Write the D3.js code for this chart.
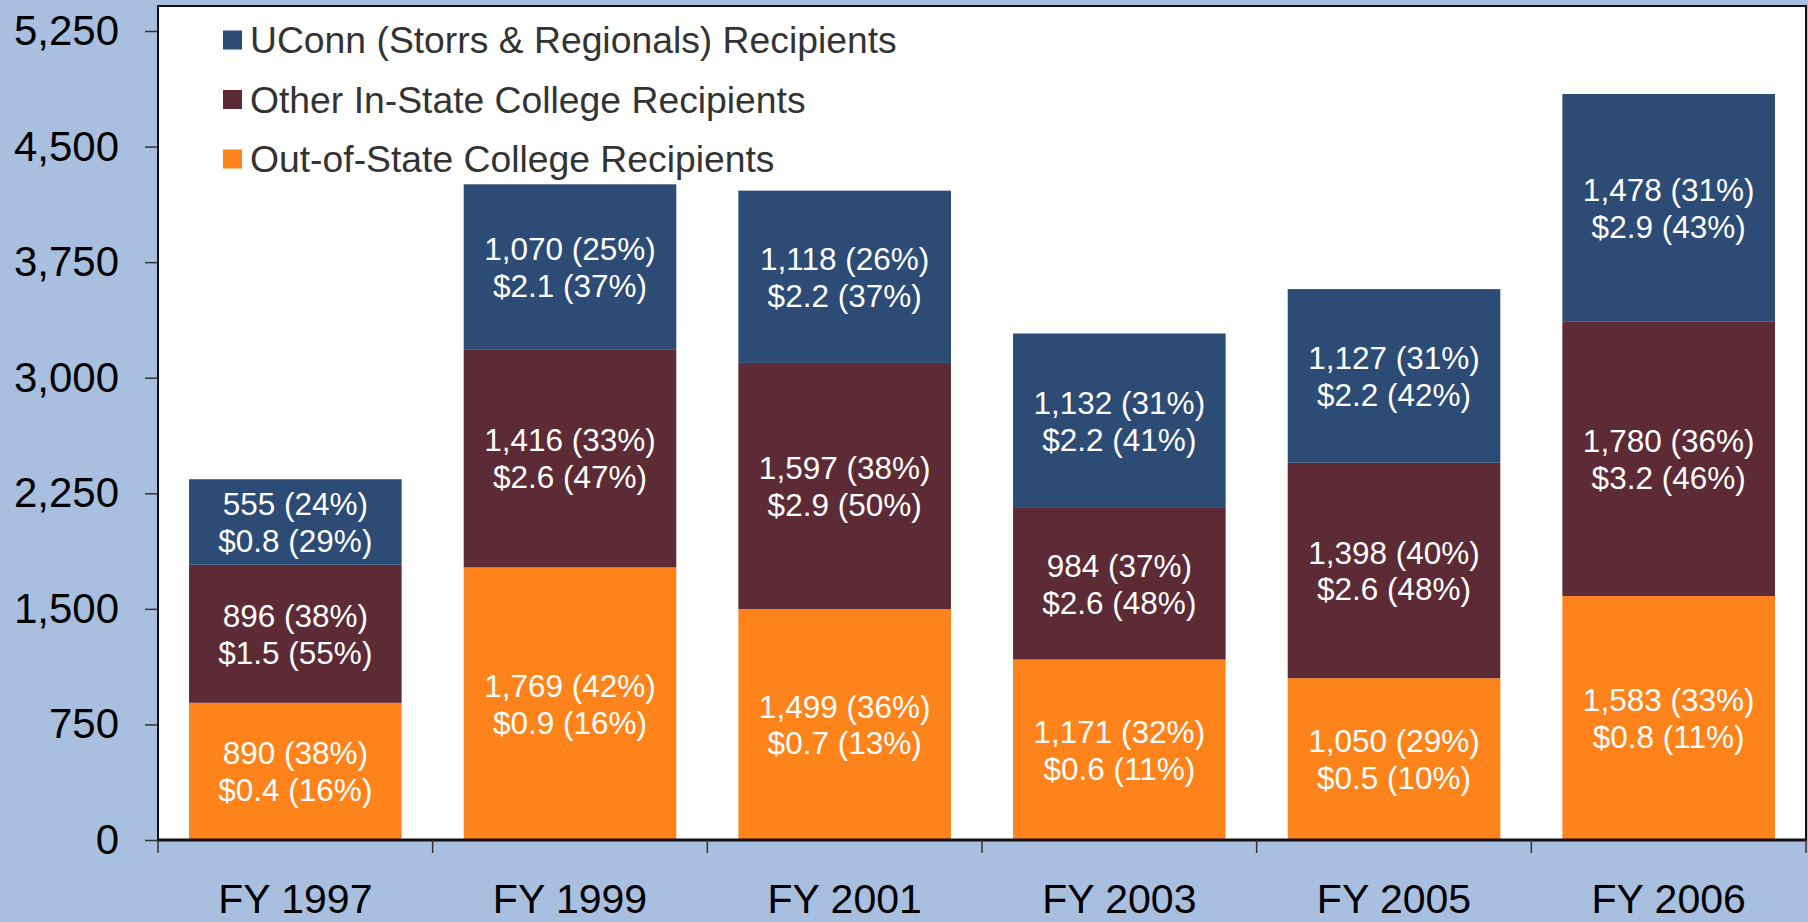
<!DOCTYPE html>
<html>
<head>
<meta charset="utf-8">
<script src="https://cdn.jsdelivr.net/npm/d3@7"></script>
<style>
  html, body { margin: 0; padding: 0; background: #a9bfdf; }
  svg { display: block; font-family: "Liberation Sans", Arial, sans-serif; }
</style>
</head>
<body>
<svg id="chart"></svg>
<script>
const years = ["FY 1997", "FY 1999", "FY 2001", "FY 2003", "FY 2005", "FY 2006"];

// recipients (count), share of recipients, dollars (millions), share of dollars
const outState = [890, 1769, 1499, 1171, 1050, 1583];
const outStatePct = [38, 42, 36, 32, 29, 33];
const outStateDollars = ["0.4", "0.9", "0.7", "0.6", "0.5", "0.8"];
const outStateDollarPct = [16, 16, 13, 11, 10, 11];

const inState = [896, 1416, 1597, 984, 1398, 1780];
const inStatePct = [38, 33, 38, 37, 40, 36];
const inStateDollars = ["1.5", "2.6", "2.9", "2.6", "2.6", "3.2"];
const inStateDollarPct = [55, 47, 50, 48, 48, 46];

const uconn = [555, 1070, 1118, 1132, 1127, 1478];
const uconnPct = [24, 25, 26, 31, 31, 31];
const uconnDollars = ["0.8", "2.1", "2.2", "2.2", "2.2", "2.9"];
const uconnDollarPct = [29, 37, 37, 41, 42, 43];

const yTicks = [0, 750, 1500, 2250, 3000, 3750, 4500, 5250];

const series = [
    { key: "out", name: "Out-of-State College Recipients", color: "#fe831b",
      values: outState, pct: outStatePct, dollars: outStateDollars, dpct: outStateDollarPct },
    { key: "in", name: "Other In-State College Recipients", color: "#5d2b36",
      values: inState, pct: inStatePct, dollars: inStateDollars, dpct: inStateDollarPct },
    { key: "uconn", name: "UConn (Storrs & Regionals) Recipients", color: "#2c4b75",
      values: uconn, pct: uconnPct, dollars: uconnDollars, dpct: uconnDollarPct }
];

const width = 1808, height = 922;
const plot = { left: 158, right: 1806, top: 6, bottom: 840 };

const svg = d3.select("#chart")
    .attr("width", width)
    .attr("height", height);

svg.append("rect")
    .attr("width", width)
    .attr("height", height)
    .attr("fill", "#a9bfdf");

// plot area
svg.append("rect")
    .attr("x", plot.left)
    .attr("y", plot.top)
    .attr("width", plot.right - plot.left)
    .attr("height", plot.bottom - plot.top)
    .attr("fill", "#fff")
    .attr("stroke", "#111")
    .attr("stroke-width", 2);

const x = d3.scaleBand()
    .domain(years)
    .range([plot.left, plot.right])
    .paddingInner(0.226)
    .paddingOuter(0.113);

const y = d3.scaleLinear()
    .domain([0, 5250])
    .range([plot.bottom, 31]);

const table = years.map((yr, i) => {
    const row = { year: yr, i: i };
    series.forEach(s => { row[s.key] = s.values[i]; });
    return row;
});

const stacked = d3.stack().keys(series.map(s => s.key))(table);

const layers = svg.selectAll("g.layer")
    .data(stacked)
    .join("g")
        .attr("class", "layer")
        .attr("fill", (d, i) => series[i].color);

layers.selectAll("rect")
    .data(d => d)
    .join("rect")
        .attr("x", d => x(d.data.year))
        .attr("width", x.bandwidth())
        .attr("y", d => y(d[1]))
        .attr("height", d => y(d[0]) - y(d[1]));

// labels in each segment
const fmt = d3.format(",");
stacked.forEach((layer, li) => {
    const s = series[li];
    const g = svg.append("g")
        .attr("fill", "#fff")
        .attr("font-size", 31.5)
        .attr("text-anchor", "middle");
    layer.forEach((d, i) => {
        const cx = x(d.data.year) + x.bandwidth() / 2;
        const cy = (y(d[0]) + y(d[1])) / 2;
        const t = g.append("text")
            .attr("x", cx)
            .attr("y", cy);
        t.append("tspan")
            .attr("x", cx)
            .attr("dy", "-0.22em")
            .text(`${fmt(s.values[i])} (${s.pct[i]}%)`);
        t.append("tspan")
            .attr("x", cx)
            .attr("dy", "1.17em")
            .text(`$${s.dollars[i]} (${s.dpct[i]}%)`);
    });
});

// bottom axis line on top of bars
svg.append("line")
    .attr("x1", plot.left).attr("x2", plot.right)
    .attr("y1", plot.bottom).attr("y2", plot.bottom)
    .attr("stroke", "#111")
    .attr("stroke-width", 3);

// y axis
const yAxis = svg.append("g")
    .attr("transform", `translate(${plot.left - 1},0)`)
    .call(d3.axisLeft(y).tickValues(yTicks).tickFormat(d3.format(",")).tickSize(12).tickPadding(26));
yAxis.select(".domain").remove();
yAxis.selectAll(".tick line").attr("stroke", "#333").attr("stroke-width", 1.5);
yAxis.selectAll(".tick text")
    .attr("font-size", 42)
    .attr("font-family", "Liberation Sans, Arial, sans-serif")
    .attr("fill", "#000");

// x axis: ticks at band boundaries
const step = x.step();
const boundaries = d3.range(years.length + 1).map(i => plot.left + i * step);
svg.append("g")
    .selectAll("line")
    .data(boundaries)
    .join("line")
        .attr("x1", d => d).attr("x2", d => d)
        .attr("y1", plot.bottom).attr("y2", plot.bottom + 13)
        .attr("stroke", "#333")
        .attr("stroke-width", 1.5);

svg.append("g")
    .selectAll("text")
    .data(years)
    .join("text")
        .attr("x", d => x(d) + x.bandwidth() / 2)
        .attr("y", 913)
        .attr("text-anchor", "middle")
        .attr("font-size", 41)
        .attr("fill", "#000")
        .text(d => d);

// legend (UConn on top)
const legendItems = series.slice().reverse();
const legend = svg.append("g")
    .selectAll("g")
    .data(legendItems)
    .join("g")
        .attr("transform", (d, i) => `translate(223, ${40 + i * 59.5})`);

legend.append("rect")
    .attr("x", 0)
    .attr("y", -9.5)
    .attr("width", 19)
    .attr("height", 19)
    .attr("fill", d => d.color);

legend.append("text")
    .attr("x", 27)
    .attr("dy", "0.35em")
    .attr("font-size", 37.3)
    .attr("fill", "#333")
    .text(d => d.name);
</script>
</body>
</html>
